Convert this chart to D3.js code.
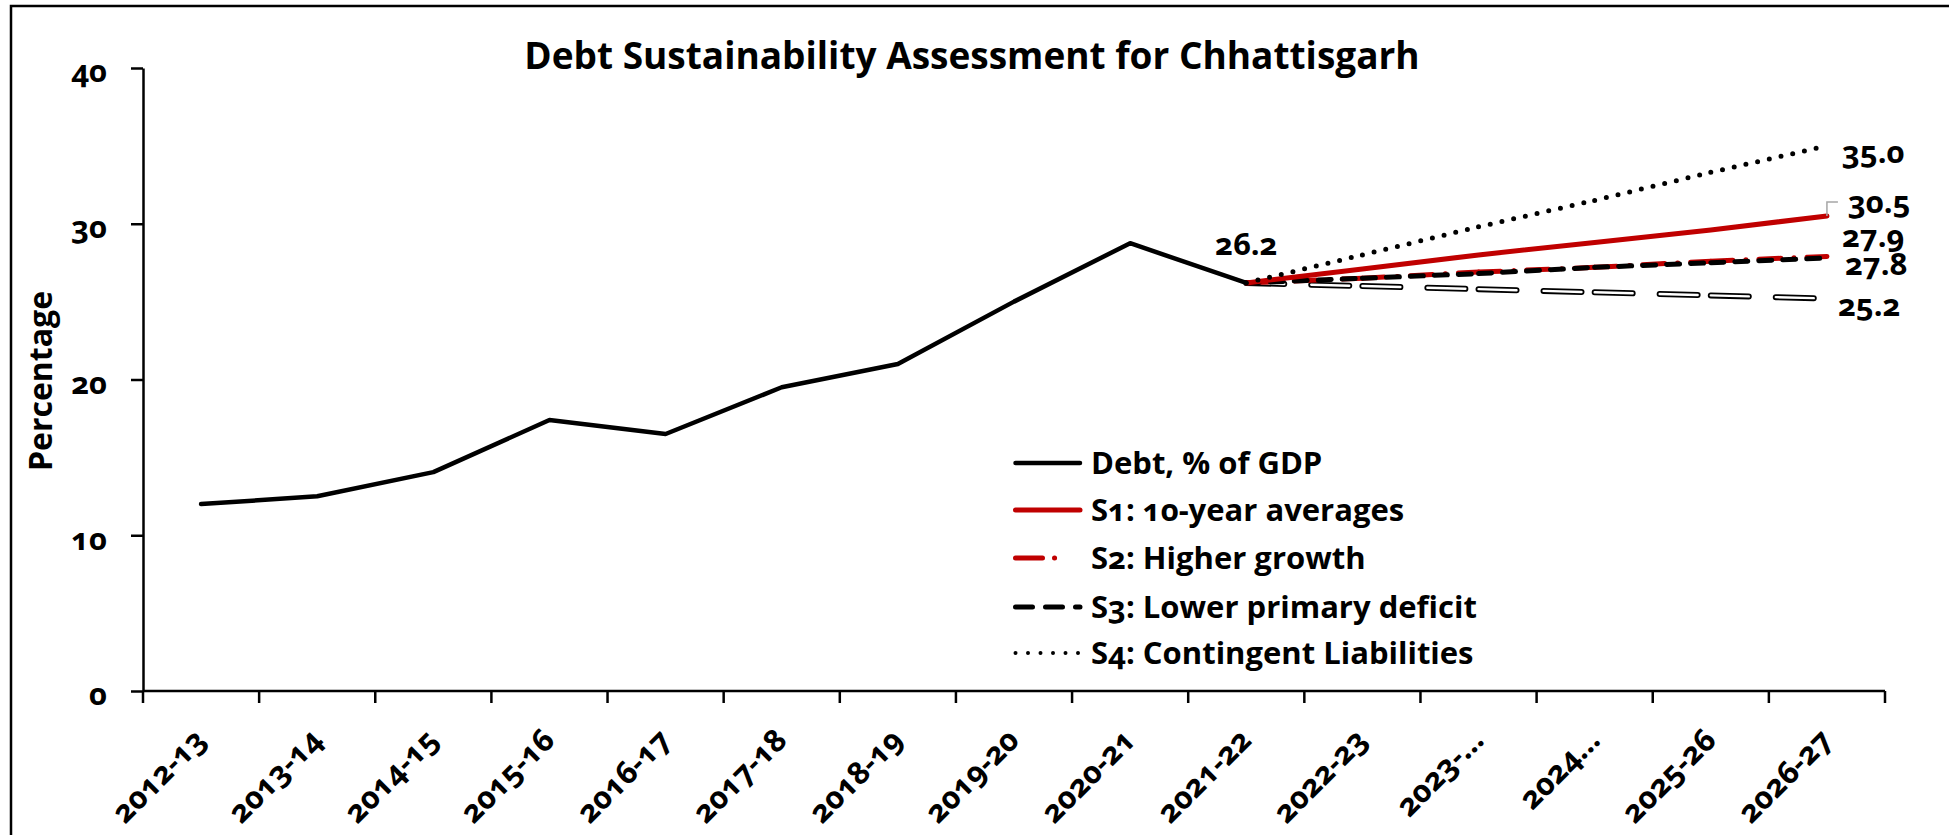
<!DOCTYPE html>
<html><head><meta charset="utf-8">
<script src="https://cdn.jsdelivr.net/npm/d3@7"></script>
<style>
html,body{margin:0;padding:0;background:#fff;overflow:hidden;}
svg{display:block;}
text{font-family:'Open Sans',sans-serif;font-weight:700;fill:#000;font-variant-numeric:oldstyle-nums;}
</style></head><body>
<svg id="chart" width="1949" height="835"></svg>
<script>
// ---------- data ----------
const categories = ["2012-13","2013-14","2014-15","2015-16","2016-17","2017-18","2018-19","2019-20","2020-21","2021-22","2022-23","2023-24","2024-25","2025-26","2026-27"];
const tickLabels = ["2012-13","2013-14","2014-15","2015-16","2016-17","2017-18","2018-19","2019-20","2020-21","2021-22","2022-23","2023-\u2026","2024\u2026","2025-26","2026-27"];
const yTicks = [0,10,20,30,40];
const debtYears = categories.slice(0,10);
const debtValues = [12.0,12.5,14.05,17.4,16.5,19.5,21.0,25.0,28.75,26.2];
const projYears = categories.slice(9);
const s1Values = [26.2,27.1,28.0,28.8,29.6,30.5];
const s2Values = [26.2,26.5,26.9,27.2,27.6,27.9];
const s3Values = [26.2,26.5,26.8,27.2,27.5,27.8];
const s4Values = [26.2,28.0,29.8,31.5,33.3,35.0];
const s5Values = [26.2,26.0,25.8,25.6,25.4,25.2];
const seriesNames = ["Debt, % of GDP","S1: 10-year averages","S2: Higher growth","S3: Lower primary deficit","S4: Contingent Liabilities"];
const titleText = "Debt Sustainability Assessment for Chhattisgarh";
const yTitle = "Percentage";

// ---------- setup ----------
const RED = "#C00000";
const svg = d3.select("#chart");
const x = d3.scaleBand().domain(categories).range([143,1885]).paddingInner(0).paddingOuter(0);
const cx = c => x(c) + x.bandwidth()/2;
const y = d3.scaleLinear().domain([0,40]).range([691,68]);

// border (top + left visible)
svg.append("rect").attr("x",11).attr("y",6).attr("width",2100).attr("height",2000)
  .attr("fill","none").attr("stroke","#000").attr("stroke-width",2.5);

// title
svg.append("text").attr("x",972).attr("y",56).attr("dy","0.36em").attr("text-anchor","middle")
  .style("font-size","37px").text(titleText);

// y axis
const yAxis = svg.append("g").attr("transform","translate(143,0)")
  .call(d3.axisLeft(y).tickValues(yTicks).tickSize(12).tickSizeOuter(0).tickPadding(24).tickFormat(d3.format("d")));
yAxis.select(".domain").attr("stroke","#000").attr("stroke-width",2.5);
yAxis.selectAll(".tick line").attr("stroke","#000").attr("stroke-width",2.5);
yAxis.selectAll(".tick text").style("font-size","31px").style("font-family","'Open Sans',sans-serif").attr("dy","0.45em");

svg.append("text").attr("transform","translate(40,381) rotate(-90)").attr("text-anchor","middle")
  .attr("dy","0.36em").style("font-size","32px").text(yTitle);

// x axis
const xg = svg.append("g");
xg.append("line").attr("x1",x.range()[0]).attr("x2",x.range()[1]).attr("y1",y(0)).attr("y2",y(0))
  .attr("stroke","#000").attr("stroke-width",2.5);
const bounds = categories.map(c => x(c)).concat([x.range()[1]]);
xg.selectAll("line.tk").data(bounds).join("line").attr("class","tk")
  .attr("x1",d=>d).attr("x2",d=>d).attr("y1",y(0)).attr("y2",y(0)+12)
  .attr("stroke","#000").attr("stroke-width",2.5);
xg.selectAll("text").data(categories).join("text")
  .attr("text-anchor","end")
  .attr("transform",(c)=>`translate(${cx(c)+7},${y(0)+51}) rotate(-45)`)
  .style("font-size","31px")
  .text((c,i)=>tickLabels[i]);

// ---------- lines ----------
const line = d3.line().x(d=>cx(d[0])).y(d=>y(d[1]));
function segs(years, vals){ return d3.pairs(d3.zip(years, vals)); }
function drawSegs(years, vals, attrs){
  const g = svg.append("g");
  g.selectAll("path").data(segs(years, vals)).join("path")
    .attr("d", d=>line(d)).attr("fill","none")
    .each(function(){ const s=d3.select(this); for (const k in attrs) s.attr(k, attrs[k]); });
  return g;
}
// S5 hollow dashed (not in legend)
drawSegs(projYears, s5Values, {"stroke":"#000","stroke-width":6,"stroke-dasharray":"38,27","stroke-linecap":"round"});
drawSegs(projYears, s5Values, {"stroke":"#fff","stroke-width":2.4,"stroke-dasharray":"38,27","stroke-linecap":"round"});
// S2 red dash-dot
drawSegs(projYears, s2Values, {"stroke":RED,"stroke-width":5,"stroke-dasharray":"22,13,0.1,13","stroke-linecap":"round"});
// S3 black dashed
drawSegs(projYears, s3Values, {"stroke":"#000","stroke-width":5,"stroke-dasharray":"13,11","stroke-linecap":"round"});
// S1 red solid
svg.append("path").datum(d3.zip(projYears, s1Values)).attr("d",line).attr("fill","none")
  .attr("stroke",RED).attr("stroke-width",5).attr("stroke-linecap","round").attr("stroke-linejoin","round");
// S4 dotted
drawSegs(projYears, s4Values, {"stroke":"#000","stroke-width":5,"stroke-dasharray":"0,12","stroke-linecap":"round"});
// Debt
svg.append("path").datum(d3.zip(debtYears, debtValues)).attr("d",line).attr("fill","none")
  .attr("stroke","#000").attr("stroke-width",4.5).attr("stroke-linecap","round").attr("stroke-linejoin","round");

// ---------- data labels ----------
const last = projYears[projYears.length-1];
const endLabels = [
  {v:s4Values[5], dx:15, dy:9},
  {v:s1Values[5], dx:21, dy:-11},
  {v:s2Values[5], dx:15, dy:-18},
  {v:s3Values[5], dx:18, dy:9},
  {v:s5Values[5], dx:11, dy:9}
];
svg.selectAll("text.end").data(endLabels).join("text").attr("class","end")
  .attr("x",d=>cx(last)+d.dx).attr("y",d=>y(d.v)+d.dy).attr("dy","0.27em")
  .style("font-size","31px").text(d=>d3.format(".1f")(d.v));
// leader line for S1 label
svg.append("path")
  .attr("d",`M${cx(last)},${y(s1Values[5])} V${y(s1Values[5])-14} H${cx(last)+11}`)
  .attr("fill","none").attr("stroke","#a6a6a6").attr("stroke-width",1.5);
// 26.2 label
svg.append("text").attr("x",cx(debtYears[9])).attr("y",y(debtValues[9])-37).attr("dy","0.3em")
  .attr("text-anchor","middle").style("font-size","31px").text(d3.format(".1f")(debtValues[9]));

// ---------- legend ----------
const legY = [463,510,558,607,653];
const leg = svg.append("g");
const legStyles = [
  {stroke:"#000", w:4.5, dash:null},
  {stroke:RED, w:5, dash:null},
  {stroke:RED, w:5, dash:"27,12,0.1,100"},
  {stroke:"#000", w:5, dash:"17,13"},
  {stroke:"#000", w:4, dash:"0,12.5"}
];
seriesNames.forEach((n,i)=>{
  const st = legStyles[i];
  leg.append("line").attr("x1",1015.5).attr("x2",1080).attr("y1",legY[i]).attr("y2",legY[i])
    .attr("stroke",st.stroke).attr("stroke-width",st.w).attr("stroke-linecap","round")
    .attr("stroke-dasharray",st.dash);
  leg.append("text").attr("x",1091).attr("y",legY[i]).attr("dy","0.36em").style("font-size","31px").text(n);
});
</script>
</body></html>
